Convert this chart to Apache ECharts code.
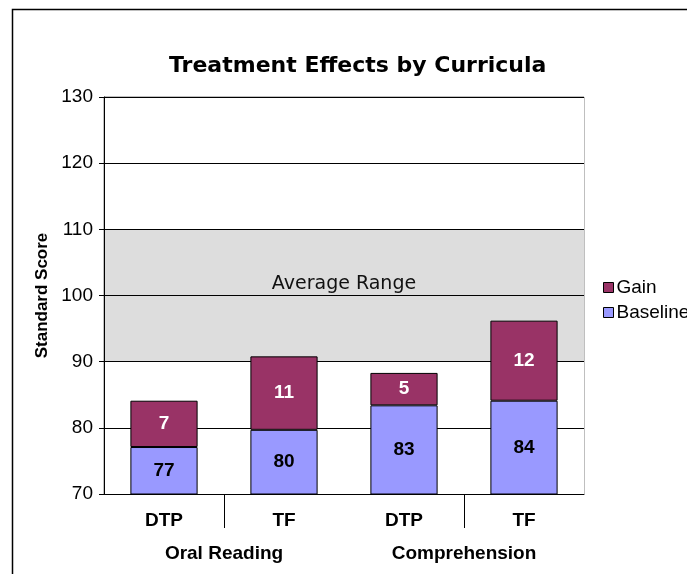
<!DOCTYPE html>
<html>
<head>
<meta charset="utf-8">
<script src="https://cdn.jsdelivr.net/npm/echarts@6/dist/echarts.min.js"></script>
<style>
  html, body { margin: 0; padding: 0; background: #fff; }
  #chart { width: 687px; height: 574px; }
</style>
</head>
<body>
<div id="chart"></div>
<script>
// values (labels show rounded numbers)
const curricula = ['DTP', 'TF', 'DTP', 'TF'];
const groups = ['Oral Reading', 'Comprehension'];
const baseline = [77.1, 79.7, 83.4, 84.1];
const gain = [7.0, 11.1, 4.9, 12.1];
const rangeLow = 90;
const rangeHigh = 110;
const groupSeparators = [1, 3];

const chart = echarts.init(document.getElementById('chart'));

const arial = 'Arial, "Liberation Sans", sans-serif';
const labelFont = { fontFamily: arial, fontWeight: 'bold', fontSize: 19 };

chart.setOption({
  animation: false,
  title: {
    text: 'Treatment Effects by Curricula',
    left: 164,
    top: 50,
    textStyle: { fontFamily: '"DejaVu Sans", Verdana, sans-serif', fontWeight: 'bold', fontSize: 22, color: '#000' }
  },
  legend: {
    orient: 'vertical',
    left: 598,
    top: 273,
    icon: 'rect',
    itemWidth: 10,
    itemHeight: 10,
    itemGap: 6,
    data: ['Gain', 'Baseline'],
    itemStyle: { borderColor: '#000', borderWidth: 1 },
    textStyle: { fontFamily: arial, fontSize: 19, color: '#000', padding: [0, 0, 0, -2] }
  },
  graphic: [{
    type: 'rect',
    left: 10, top: 7,
    shape: { width: 800, height: 700 },
    style: { fill: 'none', stroke: '#000', lineWidth: 1.5 },
    silent: true
  }],
  grid: { left: 104, right: 103, top: 97, bottom: 80, show: true, borderColor: '#808080', borderWidth: 1 },
  xAxis: [
    {
      type: 'category',
      data: curricula,
      axisLine: { lineStyle: { color: '#000' } },
      axisTick: { length: 4, lineStyle: { color: '#000' } },
      axisLabel: Object.assign({ color: '#000', margin: 17 }, labelFont)
    },
    {
      type: 'category',
      data: groups,
      position: 'bottom',
      offset: 33,
      axisLine: { show: false },
      axisTick: { show: false },
      axisLabel: Object.assign({ color: '#000', margin: 17 }, labelFont)
    },
    {
      type: 'value',
      min: 0,
      max: curricula.length,
      position: 'bottom',
      axisLine: { show: false },
      splitLine: { show: false },
      axisLabel: { show: false },
      axisTick: { show: true, length: 34, customValues: groupSeparators, lineStyle: { color: '#000' } }
    }
  ],
  yAxis: {
    type: 'value',
    min: 70,
    max: 130,
    interval: 10,
    name: 'Standard Score',
    nameLocation: 'middle',
    nameGap: 43,
    nameTextStyle: { color: '#000', fontFamily: arial, fontWeight: 'bold', fontSize: 17 },
    axisLine: { show: true, lineStyle: { color: '#000' } },
    axisTick: { show: true, length: 5, lineStyle: { color: '#000' } },
    axisLabel: { color: '#000', fontFamily: arial, fontSize: 19, margin: 11 },
    splitLine: { lineStyle: { color: '#000' } },
    splitArea: {
      show: true,
      areaStyle: { color: ['#fff', '#fff', '#DDDDDD', '#DDDDDD', '#fff', '#fff'] }
    }
  },
  series: [
    {
      name: 'Baseline',
      type: 'bar',
      stack: 'score',
      data: baseline,
      barWidth: '56%',
      itemStyle: { color: '#9999FF', borderColor: '#000', borderWidth: 1 },
      label: Object.assign({ show: true, position: 'inside', color: '#000', formatter: p => Math.round(p.value) }, labelFont),
      markArea: {
        silent: true,
        itemStyle: { color: 'rgba(0,0,0,0)' },
        label: {
          show: true, position: 'inside', offset: [0, -11],
          fontFamily: '"DejaVu Sans", Verdana, sans-serif', fontSize: 19, color: '#111'
        },
        data: [[{ name: 'Average Range', yAxis: rangeLow }, { yAxis: rangeHigh }]]
      }
    },
    {
      name: 'Gain',
      type: 'bar',
      stack: 'score',
      data: gain,
      itemStyle: { color: '#993366', borderColor: '#000', borderWidth: 1 },
      label: Object.assign({ show: true, position: 'inside', color: '#fff', formatter: p => Math.round(p.value) }, labelFont)
    }
  ]
});
</script>
</body>
</html>
